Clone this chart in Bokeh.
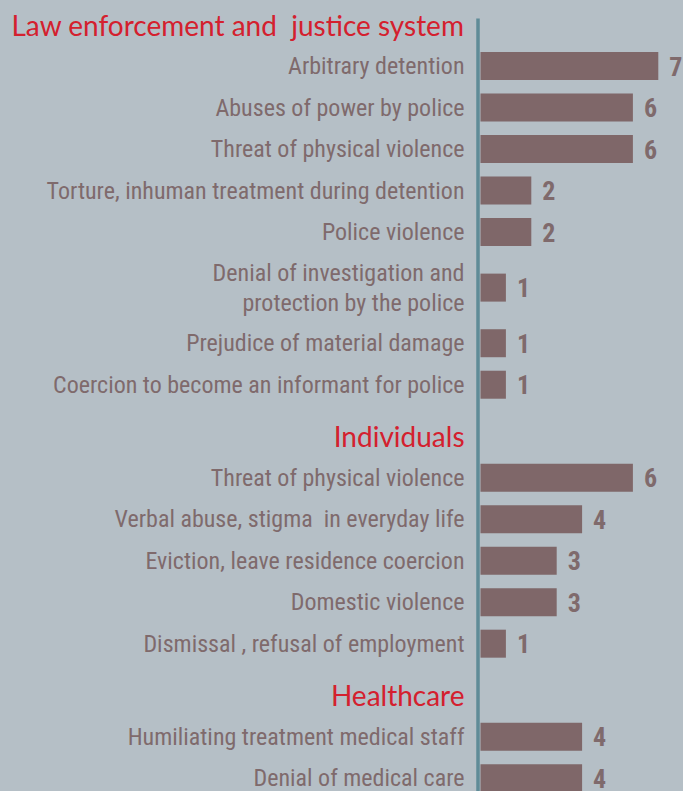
from bokeh.plotting import figure
from bokeh.models import Range1d
from bokeh.core.properties import value
from bokeh.embed import file_html
from bokeh.resources import INLINE

# ---------------- data ----------------
sections = ["Law enforcement and\u00a0 justice system", "Individuals", "Healthcare"]

law_labels = [
    "Arbitrary detention",
    "Abuses of power by police",
    "Threat of physical violence",
    "Torture, inhuman treatment during detention",
    "Police violence",
    "Denial of investigation and\nprotection by the police",
    "Prejudice of material damage",
    "Coercion to become an informant for police",
]
law_values = [7, 6, 6, 2, 2, 1, 1, 1]

ind_labels = [
    "Threat of physical violence",
    "Verbal abuse, stigma\u00a0 in everyday life",
    "Eviction, leave residence coercion",
    "Domestic violence",
    "Dismissal , refusal of employment",
]
ind_values = [6, 4, 3, 3, 1]

health_labels = [
    "Humiliating treatment medical staff",
    "Denial of medical care",
]
health_values = [4, 4]

# ---------------- styles ----------------
BG = "#b5bfc6"
BAR = "#7f6769"
LABEL = "#7f6a6c"
RED = "#d4202e"
AXIS = "#5f8b97"
COND = "Roboto Condensed"
HEAD = "Lato"

W, H = 683, 791
PX_UNIT = 25.4      # px per value unit
ROW_PX = 41.5       # px per row
EXTRA = 0.34        # extra half-row around two-line labels (rows)
GAP = 0.24          # extra gap before a section header (rows)
ORIGIN_X = 480      # px from left where bars start
FIRST_Y = 24        # px from top of first header centre

# ---------------- layout of rows (in row units) ----------------
groups = [(law_labels, law_values), (ind_labels, ind_values), (health_labels, health_values)]
head_y, bar_y, labels, values = [], [], [], []
pos = 0.0
for gi, (labs, vals) in enumerate(groups):
    if gi > 0:
        pos += 1 + GAP
    head_y.append(pos)
    for lab, v in zip(labs, vals):
        two = "\n" in lab
        pos += 1 + (EXTRA if two else 0)
        bar_y.append(pos)
        labels.append(lab)
        values.append(v)
        if two:
            pos += EXTRA

x_start = -ORIGIN_X / PX_UNIT
x_end = x_start + W / PX_UNIT
y_top = -FIRST_Y / ROW_PX
y_bot = y_top + H / ROW_PX

p = figure(width=W, height=H, output_backend="svg", toolbar_location=None,
           x_range=Range1d(x_start, x_end), y_range=Range1d(y_bot, y_top),
           x_axis_location=None, y_axis_location=None, min_border=0)
p.background_fill_color = BG
p.border_fill_color = BG
p.outline_line_color = None
p.grid.visible = False

# axis line
ax_x = -2.5 / PX_UNIT
p.segment(x0=[ax_x], y0=[head_y[0] - 6 / ROW_PX], x1=[ax_x], y1=[y_bot],
          line_color=AXIS, line_width=3.5)

p.hbar(y=bar_y, left=0, right=values, height=28 / ROW_PX, fill_color=BAR, line_color=None)

p.text(x=0, y=bar_y, text=labels, x_offset=-16, text_align="right", text_baseline="middle",
       text_font=value(COND), text_font_size="24px", text_color=LABEL, text_line_height=1.07)

p.text(x=values, y=bar_y, text=[str(v) for v in values], x_offset=11, text_align="left",
       text_baseline="middle", text_font=value(COND), text_font_style="bold",
       text_font_size="26px", text_color=LABEL)

p.text(x=0, y=head_y, text=sections, x_offset=-16, text_align="right", text_baseline="middle",
       text_font=value(HEAD), text_font_size="28px", text_color=RED)

html = file_html(p, INLINE)
html = html.replace("</head>", "<style>html,body{background:%s;}</style></head>" % BG, 1)
open("out.html", "w").write(html)
